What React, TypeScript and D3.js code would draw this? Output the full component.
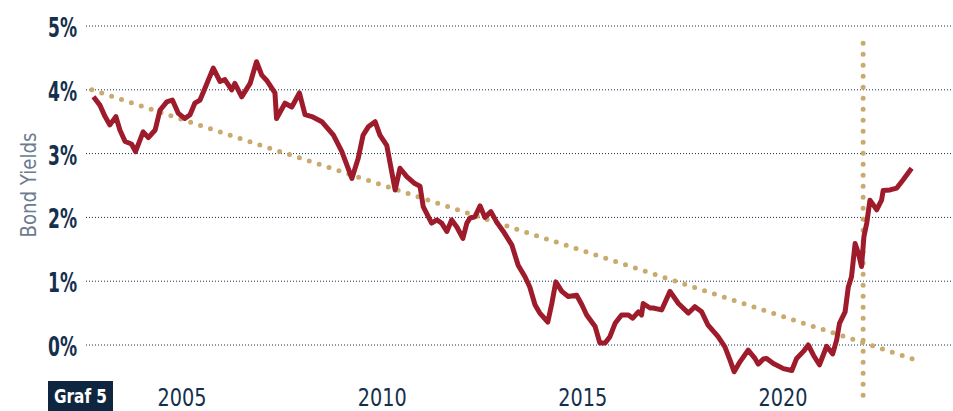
import React from 'react';
import { scaleLinear, line } from 'd3';

// bond yield series, [decimal year, percent]
const years = [
  2002.79, 2002.95, 2003.08, 2003.2, 2003.35, 2003.45, 2003.58, 2003.74, 2003.84, 2004.03,
  2004.16, 2004.33, 2004.45, 2004.62, 2004.76, 2004.91, 2005.07, 2005.2, 2005.32, 2005.45,
  2005.57, 2005.78, 2005.95, 2006.07, 2006.24, 2006.32, 2006.49, 2006.7, 2006.86, 2006.99,
  2007.11, 2007.32, 2007.36, 2007.57, 2007.74, 2007.93, 2008.07, 2008.24, 2008.49, 2008.78,
  2008.99, 2009.24, 2009.4, 2009.52, 2009.65, 2009.82, 2009.94, 2010.11, 2010.32, 2010.44,
  2010.61, 2010.81, 2010.94, 2011.02, 2011.23, 2011.36, 2011.48, 2011.61, 2011.73, 2011.86,
  2012.01, 2012.11, 2012.19, 2012.31, 2012.44, 2012.56, 2012.71, 2012.85, 2013.02, 2013.23,
  2013.39, 2013.56, 2013.68, 2013.81, 2013.93, 2014.13, 2014.23, 2014.33, 2014.48, 2014.64,
  2014.85, 2014.98, 2015.1, 2015.31, 2015.43, 2015.56, 2015.68, 2015.81, 2015.97, 2016.14,
  2016.25, 2016.39, 2016.47, 2016.51, 2016.68, 2016.76, 2016.97, 2017.18, 2017.39, 2017.64,
  2017.8, 2017.97, 2018.13, 2018.38, 2018.55, 2018.68, 2018.78, 2018.93, 2019.13, 2019.3,
  2019.38, 2019.51, 2019.59, 2019.76, 2020.01, 2020.22, 2020.34, 2020.51, 2020.63, 2020.76,
  2020.91, 2021.09, 2021.24, 2021.34, 2021.41, 2021.55, 2021.63, 2021.71, 2021.8, 2021.88,
  2021.96, 2022.02, 2022.09, 2022.17, 2022.34, 2022.46, 2022.5, 2022.67, 2022.84, 2023.0,
  2023.21,
];
const yields = [
  3.89, 3.76, 3.58, 3.45, 3.58, 3.37, 3.19, 3.15, 3.03, 3.34,
  3.25, 3.37, 3.68, 3.81, 3.84, 3.63, 3.55, 3.61, 3.79, 3.84,
  4.02, 4.34, 4.13, 4.16, 4.0, 4.1, 3.89, 4.1, 4.44, 4.23,
  4.15, 3.95, 3.55, 3.79, 3.73, 3.95, 3.61, 3.58, 3.5, 3.29,
  3.03, 2.61, 2.93, 3.29, 3.42, 3.5, 3.29, 3.13, 2.43, 2.77,
  2.64, 2.53, 2.49, 2.17, 1.91, 1.96, 1.91, 1.78, 1.96, 1.85,
  1.67, 1.91, 1.99, 2.01, 2.18, 2.0, 2.09, 1.93, 1.78, 1.57,
  1.25, 1.07, 0.91, 0.63, 0.5, 0.36, 0.65, 0.99, 0.84, 0.76,
  0.78, 0.63, 0.47, 0.29, 0.03, 0.03, 0.13, 0.34, 0.47, 0.47,
  0.42, 0.52, 0.47, 0.65, 0.58, 0.58, 0.55, 0.84, 0.65, 0.5,
  0.6, 0.52, 0.31, 0.13, -0.03, -0.24, -0.42, -0.26, -0.08, -0.21,
  -0.3, -0.22, -0.21, -0.29, -0.37, -0.4, -0.21, -0.1, 0.0, -0.16,
  -0.31, -0.02, -0.14, 0.08, 0.34, 0.52, 0.91, 1.07, 1.59, 1.44,
  1.23, 1.7, 1.91, 2.27, 2.12, 2.27, 2.42, 2.43, 2.46, 2.59,
  2.77,
];

// dotted trend line and the vertical marker
const trendYears = [2002.75, 2023.24];
const trendValues = [4.0, -0.22];
const markerYear = 2022.0;
const markerRange = [4.73, -0.82];

const yTicks = [0, 1, 2, 3, 4, 5];
const xTicks = [2005, 2010, 2015, 2020];

const W = 953;
const H = 411;
const navy = '#14304d';
const red = '#9e1b2c';
const tan = '#c9aa6f';
const font = '"DejaVu Sans Condensed", "Liberation Sans Narrow", sans-serif';

type P = [number, number];

export default function App() {
  const x = scaleLinear().domain([2005, 2020]).range([182, 783]);
  const y = scaleLinear().domain([0, 5]).range([345, 26]);

  const xy = line<P>().x(d => x(d[0])).y(d => y(d[1]));

  const path = xy(years.map((yr, i) => [yr, yields[i]] as P));
  const trend = xy(trendYears.map((t, i) => [t, trendValues[i]] as P));
  const marker = xy(markerRange.map(v => [markerYear, v] as P));

  return (
    <div style={{ position: 'absolute', left: 0, top: 0 }}>
      <svg width={W} height={H} style={{ display: 'block', background: '#fff' }}>
        {/* gridlines and y labels */}
        {yTicks.map(t => (
          <g key={t}>
            <line x1={86} x2={W} y1={y(t)} y2={y(t)}
              stroke={navy} strokeWidth={1} strokeDasharray="1 2" />
            <text x={77} y={y(t) + 11} textAnchor="end" fill={navy}
              fontFamily={font} fontWeight={700} fontSize={27}
              textLength={29} lengthAdjust="spacingAndGlyphs">
              {`${t}%`}
            </text>
          </g>
        ))}

        {/* axis title */}
        <text transform="translate(36,185) rotate(-90)" textAnchor="middle"
          fill="#6c7b8e" fontFamily={font} fontSize={21}
          textLength={105} lengthAdjust="spacingAndGlyphs">
          Bond Yields
        </text>

        {/* x labels */}
        {xTicks.map(t => (
          <text key={t} x={x(t)} y={406} textAnchor="middle" fill={navy}
            fontFamily={font} fontSize={25}
            textLength={49} lengthAdjust="spacingAndGlyphs">
            {String(t)}
          </text>
        ))}

        {/* trend + marker */}
        <path d={trend || ''} fill="none" stroke={tan} strokeWidth={5}
          strokeLinecap="round" strokeDasharray="0 10.4" />
        <path d={marker || ''} fill="none" stroke={tan} strokeWidth={5}
          strokeLinecap="round" strokeDasharray="0 11" />

        {/* yield line */}
        <path d={path || ''} fill="none" stroke={red} strokeWidth={5}
          strokeLinejoin="round" strokeLinecap="butt" />

        {/* chart tag */}
        <rect x={48} y={381} width={65} height={30} fill="#0f2640" />
        <text x={80.5} y={403} textAnchor="middle" fill="#fff"
          fontFamily={font} fontWeight={700} fontSize={20}
          textLength={53} lengthAdjust="spacingAndGlyphs">
          Graf 5
        </text>
      </svg>
    </div>
  );
}
